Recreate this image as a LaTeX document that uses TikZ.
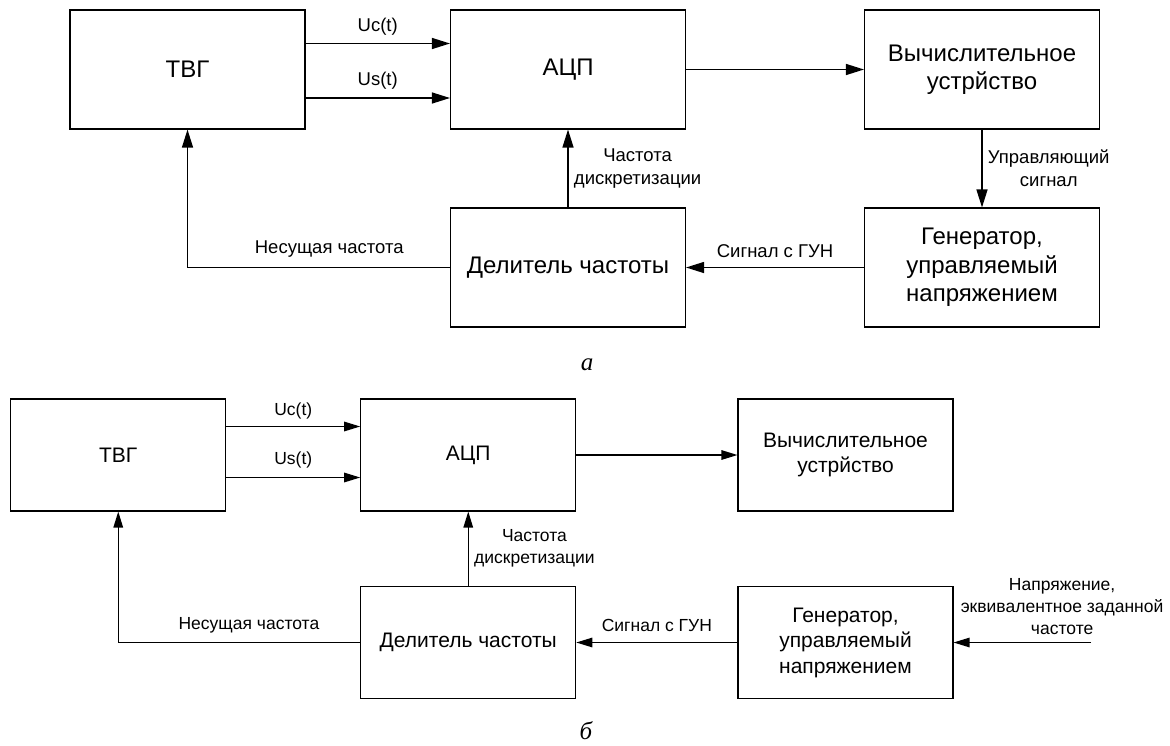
\documentclass[tikz,border=0pt]{standalone}
\usepackage{fontspec}
\setmainfont{Liberation Sans}
\newfontfamily\capfont{Liberation Serif}
\usetikzlibrary{arrows.meta}
\tikzset{
    blka/.style={draw,line width=1.1pt,minimum width=235pt,minimum height=119pt,
        align=center,font=\fontsize{24}{28.5}\selectfont},
    blkb/.style={draw,line width=1.1pt,minimum width=215pt,minimum height=112pt,
        align=center,font=\fontsize{21}{25.5}\selectfont},
    lbla/.style={align=center,font=\fontsize{18.5}{23}\selectfont},
    lblb/.style={align=center,font=\fontsize{17.5}{22}\selectfont},
    arra/.style={line width=1.3pt,-{Triangle[length=18pt,width=11pt]}},
    arrb/.style={line width=1.3pt,-{Triangle[length=16pt,width=9.5pt]}},
    capt/.style={font=\capfont\itshape\fontsize{25}{30}\selectfont}
}
\begin{document}
\begin{tikzpicture}[x=1pt,y=-1pt]
    \useasboundingbox (0,0) rectangle (1170,745);
    % schema a
    \draw (187.5,69.5) node(tvga) [blka] {ТВГ}
        (568,69.5) node(adca) [blka] {АЦП}
        (982,69.5) node(cmpa) [blka] {Вычислительное\\устрйство}
        (568,267.5) node(dlva) [blka] {Делитель частоты}
        (982,267.5) node(vcoa) [blka] {Генератор,\\управляемый\\напряжением};
    \node[capt] (capa) at (587,365) {а};
    \draw[arra] ([yshift=26pt]tvga.east) -- node[lbla,anchor=base,yshift=12pt] {Uc(t)}
        ([yshift=26pt]adca.west);
    \draw[arra] ([yshift=-28.5pt]tvga.east) -- node[lbla,anchor=base,yshift=13pt] {Us(t)}
        ([yshift=-28.5pt]adca.west);
    \draw[arra] (adca.east) -- (cmpa.west);
    \draw[arra] (cmpa.south) -- node[lbla,right=2pt] {Управляющий\\сигнал} (vcoa.north);
    \draw[arra] (vcoa.west) -- node[lbla,anchor=base,yshift=10.5pt] {Сигнал с ГУН} (dlva.east);
    \draw[arra] (dlva.north) -- node[lbla,right=2pt] {Частота\\дискретизации} (adca.south);
    \draw[arra] (dlva.west) -| node[lbla,pos=0.23,anchor=base,yshift=14pt] {Несущая частота}
        (tvga.south);
    % schema b
    \draw (118.25,455) node(tvgb) [blkb] {ТВГ}
        (468.25,455) node(adcb) [blkb] {АЦП}
        (845.5,455) node(cmpb) [blkb] {Вычислительное\\устрйство}
        (468.25,642.5) node(dlvb) [blkb] {Делитель частоты}
        (845.5,642.5) node(vcob) [blkb] {Генератор,\\управляемый\\напряжением};
    \coordinate (vinb) at (1091,642.5);
    \node[capt] (capb) at (586,731) {б};
    \draw[arrb] ([yshift=28.5pt]tvgb.east) -- node[lblb,anchor=base,yshift=11.5pt] {Uc(t)}
        ([yshift=28.5pt]adcb.west);
    \draw[arrb] ([yshift=-22.5pt]tvgb.east) -- node[lblb,anchor=base,yshift=13pt] {Us(t)}
        ([yshift=-22.5pt]adcb.west);
    \draw[arrb] (adcb.east) -- (cmpb.west);
    \draw[arrb] (vinb) -- node[lblb,pos=0.21,above=4pt] {Напряжение,\\эквивалентное заданной\\частоте}
        (vcob.east);
    \draw[arrb] (vcob.west) -- node[lblb,anchor=base,yshift=11.5pt] {Сигнал с ГУН} (dlvb.east);
    \draw[arrb] (dlvb.north) -- node[lblb,right=2pt] {Частота\\дискретизации} (adcb.south);
    \draw[arrb] (dlvb.west) -| node[lblb,pos=0.23,anchor=base,yshift=13.5pt] {Несущая частота}
        (tvgb.south);
\end{tikzpicture}
\end{document}
